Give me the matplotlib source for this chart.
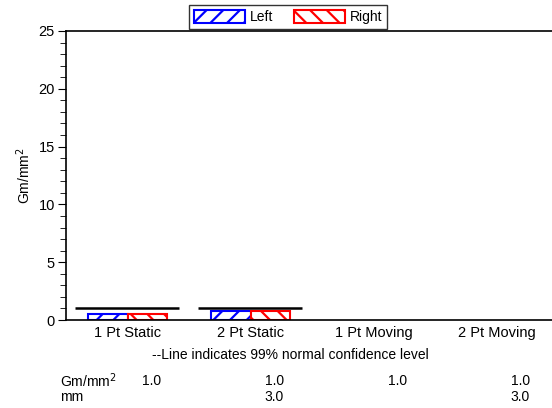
import numpy as np
import matplotlib.pyplot as plt
from matplotlib.patches import Patch
from matplotlib.ticker import MultipleLocator
import matplotlib.transforms as mtransforms

plt.rcParams['font.family'] = ['Liberation Sans', 'DejaVu Sans']
plt.rcParams['hatch.linewidth'] = 1.6

categories = ['1 Pt Static', '2 Pt Static', '1 Pt Moving', '2 Pt Moving']
left_vals = [0.5, 0.8, 0.0, 0.0]
right_vals = [0.55, 0.8, 0.0, 0.0]
conf_level = [1.0, 1.05, None, None]

row_labels = ['Gm/mm$^2$', 'mm']
row_gm = ['1.0', '1.0', '1.0', '1.0']
row_mm = ['', '3.0', '', '3.0']

fig = plt.figure(figsize=(5.52, 4.08), dpi=100)
ax = fig.add_axes([66 / 552, 1 - 320 / 408, (558 - 66) / 552, (320 - 31) / 408])

x = np.arange(len(categories))
w = 0.325
# empty categories get no bar at all
lv = np.array(left_vals)
rv = np.array(right_vals)
ax.bar(x[lv > 0] - w / 2, lv[lv > 0], w, facecolor='white', edgecolor='blue',
       hatch='//', linewidth=1.5, label='Left')
ax.bar(x[rv > 0] + w / 2, rv[rv > 0], w, facecolor='white', edgecolor='red',
       hatch='\\\\', linewidth=1.5, label='Right')

# confidence lines
for xi, c in zip(x, conf_level):
    if c is not None:
        ax.hlines(c, xi - 0.43, xi + 0.42, color='black', linewidth=1.8)

ax.set_xlim(-0.5, 3.5)
ax.set_ylim(0, 25)
ax.set_xticks(x)
ax.set_xticklabels(categories, fontsize=10.5)
ax.tick_params(axis='x', length=0, pad=4)
ax.yaxis.set_major_locator(MultipleLocator(5))
ax.yaxis.set_minor_locator(MultipleLocator(1))
ax.tick_params(axis='y', which='major', length=6, width=0.8, labelsize=10.5, pad=2)
ax.tick_params(axis='y', which='minor', length=4, width=0.6)
ax.set_ylabel('Gm/mm$^2$', fontsize=10)
for s in ax.spines.values():
    s.set_linewidth(1.2)

handles = [Patch(facecolor='white', edgecolor='blue', hatch='//', linewidth=1.5, label='Left'),
           Patch(facecolor='white', edgecolor='red', hatch='\\\\', linewidth=1.5, label='Right')]
leg = fig.legend(handles=handles, loc='center', bbox_to_anchor=(288 / 552, 1 - 17 / 408),
                 ncol=2, fontsize=10, fancybox=False, edgecolor='black',
                 handlelength=3.7, handleheight=1.1, handletextpad=0.3,
                 columnspacing=1.5, borderpad=0.35, borderaxespad=0)
leg.get_frame().set_linewidth(1.0)

fig.text(290 / 552, 1 - 355 / 408, '--Line indicates 99% normal confidence level',
         ha='center', va='center', fontsize=10)

# table below the chart
trans = mtransforms.blended_transform_factory(ax.transData, fig.transFigure)
y_rows = [1 - 381 / 408, 1 - 397 / 408]
for lab, yy in zip(row_labels, y_rows):
    fig.text(60 / 552, yy, lab, ha='left', va='center', fontsize=10)
for xi, a, b in zip(x, row_gm, row_mm):
    ax.text(xi + 0.27, y_rows[0], a, transform=trans, ha='right', va='center',
            fontsize=10, clip_on=False)
    ax.text(xi + 0.27, y_rows[1], b, transform=trans, ha='right', va='center',
            fontsize=10, clip_on=False)

fig.savefig('out.png', dpi=100)
